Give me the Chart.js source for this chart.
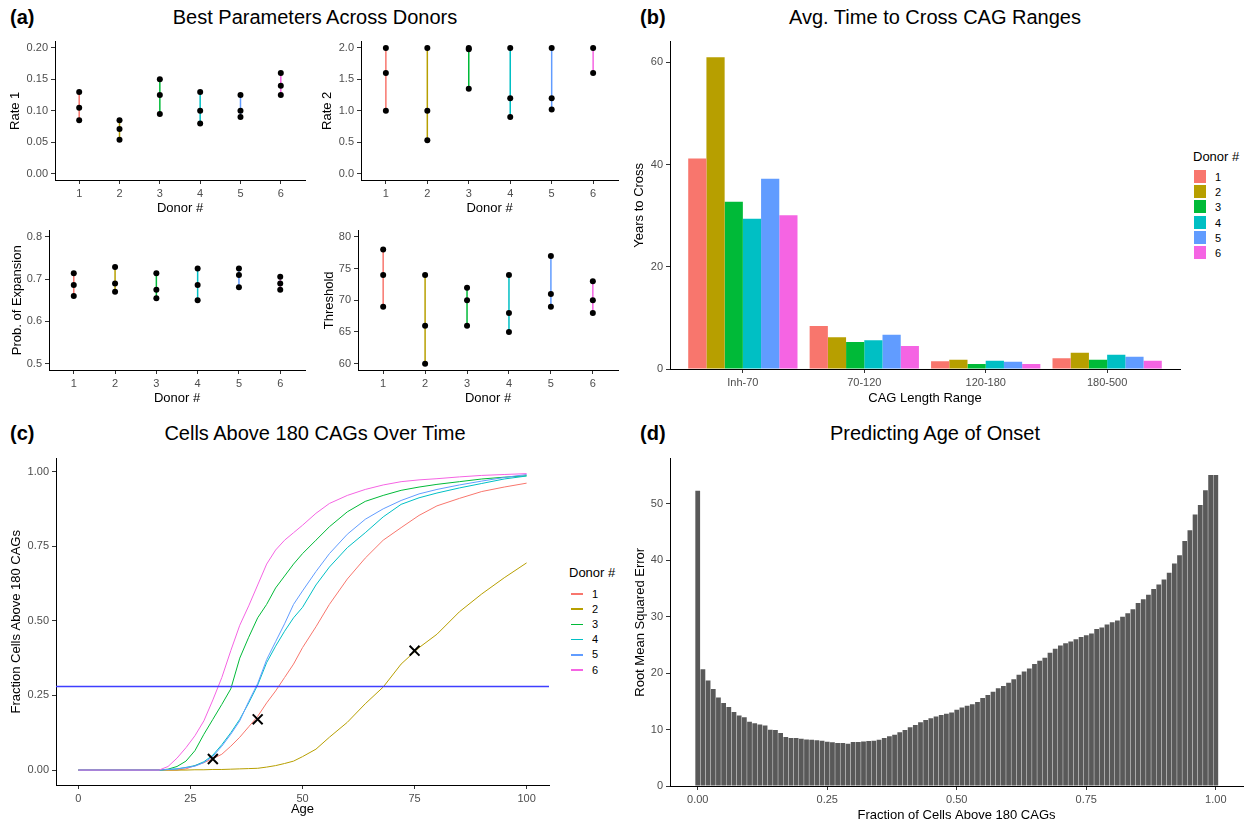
<!DOCTYPE html>
<html>
<head>
<meta charset="utf-8">
<script src="https://cdn.jsdelivr.net/npm/chart.js"></script>
<style>
  body { margin: 0; background: #fff; font-family: "Liberation Sans", Arial, sans-serif; }
  #fig { position: relative; width: 1245px; height: 824px; overflow: hidden; background: #fff; }
  #fig canvas { position: absolute; }
  .title { position: absolute; font-size: 20px; line-height: 24px; text-align: center; color: #000; }
  .tag { position: absolute; font-size: 20px; line-height: 24px; font-weight: bold; color: #000; }
  .legt { position: absolute; font-size: 13px; line-height: 16px; color: #000; }
  .legl { position: absolute; font-size: 11px; line-height: 13px; color: #000; }
  .key { position: absolute; }
</style>
</head>
<body>
<div id="fig">
  <div class="tag" style="left:10px;top:5px">(a)</div>
  <div class="title" style="left:0;width:630px;top:5px">Best Parameters Across Donors</div>
  <div class="tag" style="left:640px;top:5px">(b)</div>
  <div class="title" style="left:630px;width:610px;top:5px">Avg. Time to Cross CAG Ranges</div>
  <div class="tag" style="left:10px;top:421px">(c)</div>
  <div class="title" style="left:0;width:630px;top:421px">Cells Above 180 CAGs Over Time</div>
  <div class="tag" style="left:640px;top:421px">(d)</div>
  <div class="title" style="left:630px;width:610px;top:421px">Predicting Age of Onset</div>
</div>
<script>
// ---- data ----
const donors = ['1', '2', '3', '4', '5', '6'];
const donorColors = ['#F8766D', '#B79F00', '#00BA38', '#00BFC4', '#619CFF', '#F564E3'];

// (a) best parameter sets per donor
const rate1 = [[0.13, 0.105, 0.085], [0.085, 0.071, 0.054], [0.15, 0.125, 0.095], [0.13, 0.10, 0.08], [0.125, 0.10, 0.09], [0.16, 0.14, 0.125]];
const rate2 = [[2.0, 1.6, 1.0], [2.0, 1.0, 0.53], [2.0, 1.98, 1.35], [2.0, 1.2, 0.9], [2.0, 1.2, 1.02], [2.0, 1.6]];
const probExpansion = [[0.714, 0.686, 0.66], [0.729, 0.69, 0.67], [0.714, 0.675, 0.655], [0.725, 0.686, 0.65], [0.725, 0.71, 0.681], [0.706, 0.69, 0.675]];
const threshold = [[78, 74, 69], [74, 66, 60], [72, 70, 66], [74, 68, 65], [77, 71, 69], [73, 70, 68]];
const donorTicks = [1, 2, 3, 4, 5, 6];
const rate1Ticks = [0, 0.05, 0.10, 0.15, 0.20];
const rate2Ticks = [0, 0.5, 1.0, 1.5, 2.0];
const probTicks = [0.5, 0.6, 0.7, 0.8];
const thresholdTicks = [60, 65, 70, 75, 80];

// (b) years to cross each CAG range
const cagRanges = ['Inh-70', '70-120', '120-180', '180-500'];
const yearsToCross = [
    [41.2, 8.4, 1.5, 2.1],
    [61.0, 6.2, 1.8, 3.2],
    [32.7, 5.3, 1.0, 1.8],
    [29.4, 5.6, 1.6, 2.8],
    [37.2, 6.7, 1.4, 2.4],
    [30.1, 4.5, 1.0, 1.6]
];
const yearsTicks = [0, 20, 40, 60];

// (c) fraction of cells above 180 CAGs by age
const ages = [0, 18, 20, 22, 24, 26, 28, 30, 32, 34, 36, 38, 40, 42, 44, 46, 48, 50, 53, 56, 60, 64, 68, 72, 76, 80, 85, 90, 95, 100];
const frac1 = [0, 0, 0, 0, 0.004, 0.015, 0.025, 0.038, 0.053, 0.08, 0.11, 0.145, 0.18, 0.225, 0.265, 0.31, 0.355, 0.41, 0.48, 0.555, 0.64, 0.71, 0.77, 0.812, 0.853, 0.885, 0.91, 0.933, 0.948, 0.961];
const frac2 = [0, 0, 0, 0, 0, 0.001, 0.001, 0.002, 0.002, 0.003, 0.004, 0.005, 0.006, 0.01, 0.015, 0.022, 0.03, 0.045, 0.07, 0.11, 0.16, 0.222, 0.278, 0.355, 0.41, 0.455, 0.53, 0.59, 0.644, 0.694];
const frac3 = [0, 0, 0.003, 0.012, 0.03, 0.065, 0.12, 0.17, 0.22, 0.272, 0.375, 0.445, 0.51, 0.555, 0.61, 0.65, 0.69, 0.725, 0.77, 0.815, 0.865, 0.90, 0.92, 0.937, 0.948, 0.957, 0.966, 0.975, 0.981, 0.986];
const frac4 = [0, 0, 0.002, 0.004, 0.009, 0.015, 0.028, 0.05, 0.085, 0.125, 0.17, 0.225, 0.285, 0.36, 0.415, 0.465, 0.51, 0.545, 0.62, 0.68, 0.745, 0.795, 0.848, 0.89, 0.912, 0.928, 0.945, 0.96, 0.975, 0.985];
const frac5 = [0, 0, 0.002, 0.004, 0.008, 0.013, 0.025, 0.046, 0.08, 0.12, 0.165, 0.23, 0.29, 0.37, 0.43, 0.49, 0.555, 0.60, 0.665, 0.725, 0.79, 0.84, 0.875, 0.903, 0.925, 0.94, 0.955, 0.968, 0.98, 0.99];
const frac6 = [0, 0, 0.012, 0.04, 0.075, 0.115, 0.165, 0.235, 0.31, 0.40, 0.485, 0.55, 0.62, 0.69, 0.737, 0.77, 0.795, 0.82, 0.86, 0.893, 0.92, 0.94, 0.955, 0.966, 0.972, 0.976, 0.982, 0.987, 0.99, 0.993];
const onsetAge = [30, 40, 75];
const onsetFrac = [0.037, 0.17, 0.40];
const cutoffFrac = 0.28;
const ageTicks = [0, 25, 50, 75, 100];
const fracTicks = [0, 0.25, 0.5, 0.75, 1.0];

// (d) RMSE of onset prediction by cutoff fraction
const cutoffs = [0.00, 0.01, 0.02, 0.03, 0.04, 0.05, 0.06, 0.07, 0.08, 0.09,
    0.10, 0.11, 0.12, 0.13, 0.14, 0.15, 0.16, 0.17, 0.18, 0.19,
    0.20, 0.21, 0.22, 0.23, 0.24, 0.25, 0.26, 0.27, 0.28, 0.29,
    0.30, 0.31, 0.32, 0.33, 0.34, 0.35, 0.36, 0.37, 0.38, 0.39,
    0.40, 0.41, 0.42, 0.43, 0.44, 0.45, 0.46, 0.47, 0.48, 0.49,
    0.50, 0.51, 0.52, 0.53, 0.54, 0.55, 0.56, 0.57, 0.58, 0.59,
    0.60, 0.61, 0.62, 0.63, 0.64, 0.65, 0.66, 0.67, 0.68, 0.69,
    0.70, 0.71, 0.72, 0.73, 0.74, 0.75, 0.76, 0.77, 0.78, 0.79,
    0.80, 0.81, 0.82, 0.83, 0.84, 0.85, 0.86, 0.87, 0.88, 0.89,
    0.90, 0.91, 0.92, 0.93, 0.94, 0.95, 0.96, 0.97, 0.98, 0.99, 1.00];
const rmse = [52.3, 20.7, 18.7, 17.2, 15.7, 14.7, 14.0, 13.1, 12.5, 12.2,
    11.4, 11.1, 10.9, 10.7, 9.95, 9.9, 9.4, 8.7, 8.5, 8.5,
    8.35, 8.25, 8.2, 8.1, 8.0, 7.85, 7.75, 7.6, 7.6, 7.5,
    7.8, 7.8, 7.9, 7.95, 8.0, 8.2, 8.5, 8.8, 9.1, 9.5,
    9.9, 10.4, 10.8, 11.3, 11.7, 12.0, 12.3, 12.6, 12.8, 13.0,
    13.5, 13.9, 14.2, 14.5, 14.9, 15.6, 16.1, 16.7, 17.3, 17.7,
    18.3, 18.9, 19.7, 20.3, 20.8, 21.6, 22.2, 22.7, 23.6, 24.3,
    24.9, 25.3, 25.6, 26.0, 26.4, 26.7, 27.0, 27.8, 28.1, 28.6,
    29.0, 29.3, 30.0, 30.6, 31.3, 32.4, 33.1, 33.9, 34.9, 35.7,
    36.6, 37.8, 39.4, 40.9, 43.4, 45.3, 48.1, 49.8, 52.4, 55.1, 55.1];
const cutoffTicks = [0, 0.25, 0.5, 0.75, 1.0];
const rmseTicks = [0, 10, 20, 30, 40, 50];

// ---- helpers ----
const fig = document.getElementById('fig');
const LH = 13 * 1.2;
Chart.defaults.font.family = '"Liberation Sans", Arial, sans-serif';
Chart.defaults.font.size = 11;
Chart.defaults.color = '#4D4D4D';

function scale(ax, fitFn, titlePad) {
    return {
        type: 'linear',
        min: ax.min,
        max: ax.max,
        bounds: 'data',
        offset: false,
        afterFit: fitFn,
        afterBuildTicks: s => { s.ticks = ax.ticks.map(v => ({ value: v })); },
        ticks: { callback: ax.fmt, padding: 3, color: '#4D4D4D', font: { size: 11 }, autoSkip: false, maxRotation: 0, minRotation: 0 },
        grid: { drawOnChartArea: false, drawTicks: true, tickLength: 4, color: '#333333', offset: false },
        border: { display: true, color: '#000000', width: 1 },
        title: { display: true, text: ax.title, color: '#000000', font: { size: 13 }, padding: titlePad }
    };
}

// place a canvas so that its chart area lands exactly on box
function makePanel(box, type, datasets, xAx, yAx) {
    const left = Math.floor(box.yTitleX - LH / 2 - 2);
    const padT = 8, padR = 3;
    const yW = box.l - left;
    const xH = Math.ceil(box.xTitleY + LH / 2 + 2 - box.b);
    const cv = document.createElement('canvas');
    cv.width = box.r - left + padR;
    cv.height = padT + box.b - box.t + xH;
    cv.style.left = left + 'px';
    cv.style.top = (box.t - padT) + 'px';
    fig.appendChild(cv);
    return new Chart(cv, {
        type,
        data: { datasets },
        options: {
            responsive: false,
            devicePixelRatio: 1,
            animation: false,
            layout: { padding: { top: padT, right: padR, left: 0, bottom: 0 } },
            plugins: { legend: { display: false }, tooltip: { enabled: false } },
            scales: {
                x: scale(xAx, s => { s.height = xH; }, { top: 0, bottom: box.b + xH - LH / 2 - box.xTitleY }),
                y: scale(yAx, s => { s.width = yW; }, { top: box.yTitleX - left - LH / 2, bottom: 0 })
            }
        }
    });
}

const fmt = d => v => Number(v).toFixed(d);

// ---- (a) ----
const donorAxis = { min: 0.4, max: 6.6, ticks: donorTicks, fmt: v => String(v), title: 'Donor #' };
const paramPanels = [
    { box: { l: 55, t: 40, r: 306, b: 180, yTitleX: 15, xTitleY: 208 }, values: rate1, y: { min: -0.01, max: 0.21, ticks: rate1Ticks, fmt: fmt(2), title: 'Rate 1' } },
    { box: { l: 361, t: 40, r: 619, b: 180, yTitleX: 327, xTitleY: 208 }, values: rate2, y: { min: -0.1, max: 2.1, ticks: rate2Ticks, fmt: fmt(1), title: 'Rate 2' } },
    { box: { l: 49, t: 229, r: 306, b: 370, yTitleX: 17, xTitleY: 398 }, values: probExpansion, y: { min: 0.485, max: 0.815, ticks: probTicks, fmt: fmt(1), title: 'Prob. of Expansion' } },
    { box: { l: 358, t: 229, r: 619, b: 370, yTitleX: 329, xTitleY: 398 }, values: threshold, y: { min: 59, max: 81, ticks: thresholdTicks, fmt: v => String(v), title: 'Threshold' } }
];
paramPanels.forEach(p => {
    const datasets = p.values.map((vals, i) => ({
        data: vals.map(v => ({ x: donorTicks[i], y: v })),
        showLine: true,
        borderColor: donorColors[i],
        borderWidth: 1.5,
        pointRadius: 3,
        pointBackgroundColor: '#000',
        pointBorderColor: '#000',
        pointBorderWidth: 0
    }));
    makePanel(p.box, 'scatter', datasets, donorAxis, p.y);
});

// ---- (b) ----
makePanel(
    { l: 670, t: 40, r: 1180, b: 369, yTitleX: 639, xTitleY: 398 },
    'bar',
    yearsToCross.map((vals, i) => ({
        data: vals.map((v, j) => ({ x: j + 1, y: v })),
        backgroundColor: donorColors[i],
        borderWidth: 0,
        categoryPercentage: 0.9,
        barPercentage: 1
    })),
    { min: 0.4, max: 4.6, ticks: [1, 2, 3, 4], fmt: v => cagRanges[v - 1], title: 'CAG Length Range' },
    { min: 0, max: 64.05, ticks: yearsTicks, fmt: v => String(v), title: 'Years to Cross' }
);

// ---- (c) ----
const fracSeries = [frac1, frac2, frac3, frac4, frac5, frac6];
const ageAxis = { min: -5, max: 105, ticks: ageTicks, fmt: v => String(v), title: 'Age' };
const curveSets = fracSeries.map((vals, i) => ({
    data: vals.map((v, k) => ({ x: ages[k], y: v })),
    showLine: true,
    borderColor: donorColors[i],
    borderWidth: 1,
    pointRadius: 0,
    order: 8 - i
}));
curveSets.push({
    data: [{ x: ageAxis.min, y: cutoffFrac }, { x: ageAxis.max, y: cutoffFrac }],
    showLine: true,
    borderColor: '#3F3FFF',
    borderWidth: 1.5,
    pointRadius: 0,
    order: 1
});
curveSets.push({
    data: onsetAge.map((a, k) => ({ x: a, y: onsetFrac[k] })),
    showLine: false,
    pointStyle: 'crossRot',
    pointRadius: 7,
    borderColor: '#000',
    borderWidth: 2,
    order: 0
});
makePanel(
    { l: 56, t: 457, r: 555, b: 785, yTitleX: 16, xTitleY: 809 },
    'scatter',
    curveSets,
    ageAxis,
    { min: -0.05, max: 1.0433, ticks: fracTicks, fmt: fmt(2), title: 'Fraction Cells Above 180 CAGs' }
);

// ---- (d) ----
makePanel(
    { l: 670, t: 457, r: 1243, b: 786, yTitleX: 640, xTitleY: 815 },
    'bar',
    [{
        data: cutoffs.map((c, i) => ({ x: c, y: rmse[i] })),
        backgroundColor: '#595959',
        borderWidth: 0,
        categoryPercentage: 1,
        barPercentage: 0.92
    }],
    { min: -0.0535, max: 1.0525, ticks: cutoffTicks, fmt: fmt(2), title: 'Fraction of Cells Above 180 CAGs' },
    { min: 0, max: 58, ticks: rmseTicks, fmt: v => String(v), title: 'Root Mean Squared Error' }
);

// ---- legends ----
function addDiv(cls, css, text) {
    const d = document.createElement('div');
    d.className = cls;
    Object.assign(d.style, css);
    if (text) d.textContent = text;
    fig.appendChild(d);
}
addDiv('legt', { left: '1193px', top: '149px' }, 'Donor #');
donors.forEach((d, i) => {
    const top = 170 + 15.2 * i;
    addDiv('key', { left: '1194px', top: top + 'px', width: '12px', height: '13px', background: donorColors[i] });
    addDiv('legl', { left: '1215px', top: (top + 1) + 'px' }, d);
});
addDiv('legt', { left: '569px', top: '565px' }, 'Donor #');
donors.forEach((d, i) => {
    const y = 594 + 15.2 * i;
    addDiv('key', { left: '571px', top: (y - 0.75) + 'px', width: '12px', height: '1.5px', background: donorColors[i] });
    addDiv('legl', { left: '592px', top: (y - 6.5) + 'px' }, d);
});
</script>
</body>
</html>
